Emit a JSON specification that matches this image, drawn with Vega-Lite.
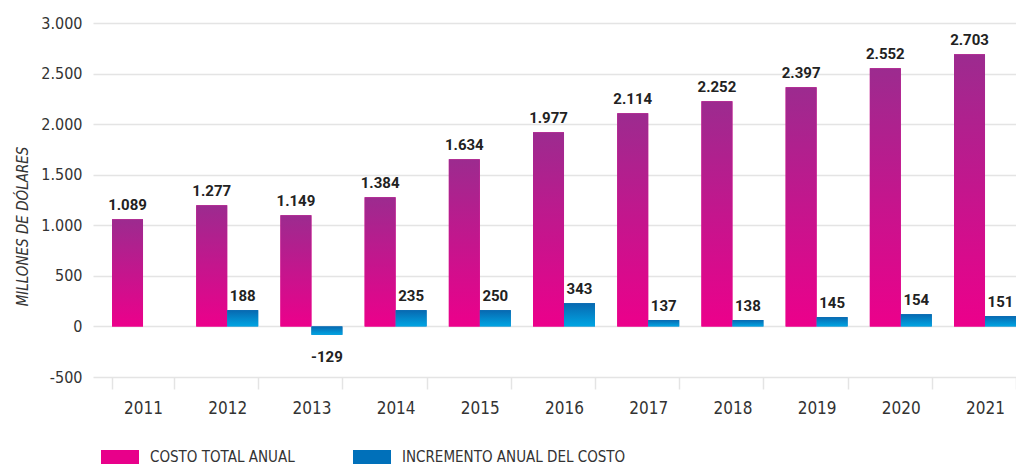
{
  "$schema": "https://vega.github.io/schema/vega-lite/v6.json",
  "autosize": "none",
  "padding": {"left": 93, "top": 23, "right": 0, "bottom": 88},
  "width": 923,
  "height": 354,
  "background": "white",
  "config": {
    "font": "DejaVu Sans Condensed, Roboto Condensed, Open Sans",
    "view": {"stroke": null},
    "locale": {"number": {"decimal": ",", "thousands": ".", "grouping": [3], "currency": ["", ""], "minus": "-"}}
  },
  "data": {
    "values": [
      {"anio": "2011", "serie": "COSTO TOTAL ANUAL", "altura": 1060, "etiqueta": 1089},
      {"anio": "2012", "serie": "COSTO TOTAL ANUAL", "altura": 1198, "etiqueta": 1277},
      {"anio": "2013", "serie": "COSTO TOTAL ANUAL", "altura": 1100, "etiqueta": 1149},
      {"anio": "2014", "serie": "COSTO TOTAL ANUAL", "altura": 1278, "etiqueta": 1384},
      {"anio": "2015", "serie": "COSTO TOTAL ANUAL", "altura": 1653, "etiqueta": 1634},
      {"anio": "2016", "serie": "COSTO TOTAL ANUAL", "altura": 1920, "etiqueta": 1977},
      {"anio": "2017", "serie": "COSTO TOTAL ANUAL", "altura": 2108, "etiqueta": 2114},
      {"anio": "2018", "serie": "COSTO TOTAL ANUAL", "altura": 2226, "etiqueta": 2252},
      {"anio": "2019", "serie": "COSTO TOTAL ANUAL", "altura": 2365, "etiqueta": 2397},
      {"anio": "2020", "serie": "COSTO TOTAL ANUAL", "altura": 2553, "etiqueta": 2552},
      {"anio": "2021", "serie": "COSTO TOTAL ANUAL", "altura": 2691, "etiqueta": 2703},
      {"anio": "2012", "serie": "INCREMENTO ANUAL DEL COSTO", "altura": 161, "etiqueta": 188},
      {"anio": "2013", "serie": "INCREMENTO ANUAL DEL COSTO", "altura": -83, "etiqueta": -129},
      {"anio": "2014", "serie": "INCREMENTO ANUAL DEL COSTO", "altura": 161, "etiqueta": 235},
      {"anio": "2015", "serie": "INCREMENTO ANUAL DEL COSTO", "altura": 161, "etiqueta": 250},
      {"anio": "2016", "serie": "INCREMENTO ANUAL DEL COSTO", "altura": 230, "etiqueta": 343},
      {"anio": "2017", "serie": "INCREMENTO ANUAL DEL COSTO", "altura": 63, "etiqueta": 137},
      {"anio": "2018", "serie": "INCREMENTO ANUAL DEL COSTO", "altura": 63, "etiqueta": 138},
      {"anio": "2019", "serie": "INCREMENTO ANUAL DEL COSTO", "altura": 92, "etiqueta": 145},
      {"anio": "2020", "serie": "INCREMENTO ANUAL DEL COSTO", "altura": 121, "etiqueta": 154},
      {"anio": "2021", "serie": "INCREMENTO ANUAL DEL COSTO", "altura": 102, "etiqueta": 151}
    ]
  },
  "encoding": {
    "x": {
      "field": "anio", "type": "ordinal", "title": null,
      "scale": {"paddingInner": 0.264, "paddingOuter": 0.113, "align": 1},
      "axis": {
        "labelAngle": 0, "domain": false, "ticks": true, "tickBand": "extent",
        "tickSize": 12, "tickColor": "#e4e4e4", "tickWidth": 1.5,
        "labelFontSize": 17, "labelColor": "#333333", "labelBaseline": "alphabetic", "labelPadding": 24,
        "grid": false
      }
    },
    "xOffset": {
      "field": "serie", "type": "nominal",
      "scale": {"domain": ["COSTO TOTAL ANUAL", "INCREMENTO ANUAL DEL COSTO"], "paddingInner": 0, "paddingOuter": 0}
    },
    "y": {
      "field": "altura", "type": "quantitative", "title": "MILLONES DE DÓLARES",
      "scale": {"domain": [-500, 3000], "nice": false, "zero": false},
      "axis": {
        "values": [-500, 0, 500, 1000, 1500, 2000, 2500, 3000], "format": ",d",
        "domain": false, "ticks": false, "tickSize": 0, "labelPadding": 11,
        "labelFontSize": 16, "labelColor": "#333333",
        "grid": true, "gridColor": "#e4e4e4", "gridWidth": 1.5,
        "titleFontSize": 15, "titleFontStyle": "italic", "titleFontWeight": "normal", "titleColor": "#333333",
        "titleAngle": -90, "titleX": -66, "titleY": 203, "titleAlign": "center", "titleBaseline": "alphabetic"
      }
    }
  },
  "layer": [
    {
      "mark": {"type": "bar"},
      "encoding": {
        "color": {
          "field": "serie", "type": "nominal",
          "scale": {"domain": ["COSTO TOTAL ANUAL", "INCREMENTO ANUAL DEL COSTO"], "range": ["#E8008A", "#0070BA"]},
          "legend": {
            "title": null, "orient": "none", "direction": "horizontal", "legendX": 8, "legendY": 415,
            "symbolType": "M-1,-0.37H1V0.37H-1Z", "symbolSize": 1444, "symbolStrokeWidth": 0,
            "labelFontSize": 15, "labelColor": "#333333", "labelOffset": 11, "columnPadding": 58, "labelLimit": 400
          }
        }
      }
    },
    {
      "transform": [{"filter": "datum.serie === 'COSTO TOTAL ANUAL'"}],
      "mark": {"type": "bar", "color": {"gradient": "linear", "x1": 0, "y1": 0, "x2": 0, "y2": 1, "stops": [{"offset": 0, "color": "#9C2B8F"}, {"offset": 1, "color": "#EC008B"}]}}
    },
    {
      "transform": [{"filter": "datum.serie === 'INCREMENTO ANUAL DEL COSTO'"}],
      "mark": {"type": "bar", "color": {"gradient": "linear", "x1": 0, "y1": 0, "x2": 0, "y2": 1, "stops": [{"offset": 0, "color": "#0868B0"}, {"offset": 1, "color": "#00A5E3"}]}}
    },
    {
      "transform": [{"filter": "datum.altura >= 0"}],
      "mark": {"type": "text", "baseline": "alphabetic", "dy": -9, "font": "Roboto", "fontSize": 15, "fontWeight": "bold", "color": "#222222"},
      "encoding": {"text": {"field": "etiqueta", "type": "quantitative", "format": ",d"}}
    },
    {
      "transform": [{"filter": "datum.altura < 0"}],
      "mark": {"type": "text", "baseline": "alphabetic", "dy": 27, "font": "Roboto", "fontSize": 15, "fontWeight": "bold", "color": "#222222"},
      "encoding": {"text": {"field": "etiqueta", "type": "quantitative", "format": ",d"}}
    }
  ]
}
